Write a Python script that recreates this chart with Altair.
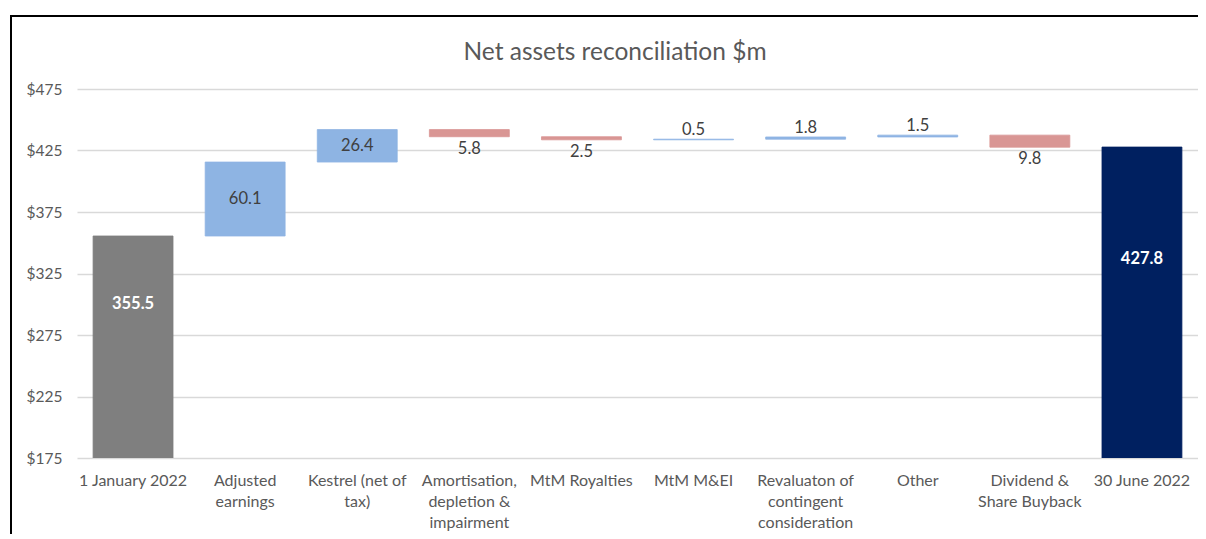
import altair as alt
import pandas as pd

# ---- data ----
categories = [
    "1 January 2022",
    "Adjusted|earnings",
    "Kestrel (net of|tax)",
    "Amortisation,|depletion &|impairment",
    "MtM Royalties",
    "MtM M&EI",
    "Revaluaton of|contingent|consideration",
    "Other",
    "Dividend &|Share Buyback",
    "30 June 2022",
]
kinds = ["start", "up", "up", "down", "down", "up", "up", "up", "down", "end"]
values = [355.5, 60.1, 26.4, 5.8, 2.5, 0.5, 1.8, 1.5, 9.8, 427.8]
title_text = "Net assets reconciliation $m"

YMIN, YMAX = 175, 475
FONT = "Lato"

rows = []
running = 0.0
for cat, kind, v in zip(categories, kinds, values):
    if kind in ("start", "end"):
        lo, hi = 0.0, v
        running = v
        pos = "total"
        ly = (hi + 245) / 2
    elif kind == "up":
        lo, hi = running, running + v
        running = hi
        pos = "inside" if v > 20 else "above"
        ly = (lo + hi) / 2 if pos == "inside" else hi
    else:
        lo, hi = running - v, running
        running = lo
        pos = "inside" if v > 20 else "below"
        ly = (lo + hi) / 2 if pos == "inside" else lo
    rows.append(dict(cat=cat, kind=kind, lo=lo, hi=hi, label=f"{v:.1f}", pos=pos, ly=ly))

df = pd.DataFrame(rows)

xenc = alt.X(
    "cat:N",
    sort=categories,
    title=None,
    scale=alt.Scale(paddingInner=0.287, paddingOuter=0.1435),
    axis=alt.Axis(
        labelAngle=0,
        labelExpr="split(datum.value, '|')",
        labelFont=FONT,
        labelFontSize=16,
        labelColor="#595959",
        labelPadding=14,
        labelLineHeight=21,
        labelLimit=300,
        ticks=False,
        domain=False,
        labelBaseline="top",
    ),
)
yscale = alt.Scale(domain=[YMIN, YMAX], nice=False, zero=False)
color_scale = alt.Scale(
    domain=["start", "up", "down", "end"],
    range=["#7F7F7F", "#8EB4E3", "#D99694", "#002060"],
)

base = alt.Chart(df)

bars = base.mark_bar(clip=True, strokeWidth=0.8).encode(
    x=xenc,
    y=alt.Y(
        "lo:Q",
        scale=yscale,
        title=None,
        axis=alt.Axis(
            values=[175, 225, 275, 325, 375, 425, 475],
            labelExpr="'$' + datum.value",
            labelFont=FONT,
            labelFontSize=15.5,
            labelColor="#595959",
            labelPadding=15,
            gridColor="#D9D9D9",
            gridWidth=1.5,
            ticks=False,
            domain=False,
        ),
    ),
    y2="hi:Q",
    color=alt.Color("kind:N", scale=color_scale, legend=None),
    stroke=alt.Stroke("kind:N", scale=color_scale, legend=None),
)

def text_layer(pos, size=16.5, **kw):
    return base.transform_filter(alt.datum.pos == pos).mark_text(font=FONT, fontSize=size, **kw).encode(
        x=alt.X("cat:N", sort=categories),
        y=alt.Y("ly:Q", scale=yscale),
        text="label:N",
    )

t_total = text_layer("total", color="white", fontWeight="bold", baseline="middle")
t_inside = text_layer("inside", color="#404040", baseline="middle")
t_above = text_layer("above", color="#404040", baseline="bottom", dy=-1)
t_below = text_layer("below", color="#404040", baseline="top", dy=4)

frame = alt.Chart(alt.Data(values=[{"a": 1}])).mark_rect(
    fillOpacity=0, stroke="black", strokeWidth=2
).encode(
    x=alt.value(-66), x2=alt.value(1300), y=alt.value(-73), y2=alt.value(600)
)

title = alt.Chart(alt.Data(values=[{"t": title_text}])).mark_text(
    font=FONT, fontSize=24.5, color="#595959", baseline="middle", align="center"
).encode(x=alt.value(538), y=alt.value(-36), text="t:N")

chart = (
    alt.layer(frame, bars, t_total, t_inside, t_above, t_below, title)
    .properties(
        width=1121,
        height=369,
        padding={"left": 69, "top": 81, "right": 0, "bottom": 76},
        autosize=alt.AutoSizeParams(type="none"),
    )
    .configure_view(stroke=None)
)

chart.save("out.html", embed_options={"renderer": "svg", "actions": False})
